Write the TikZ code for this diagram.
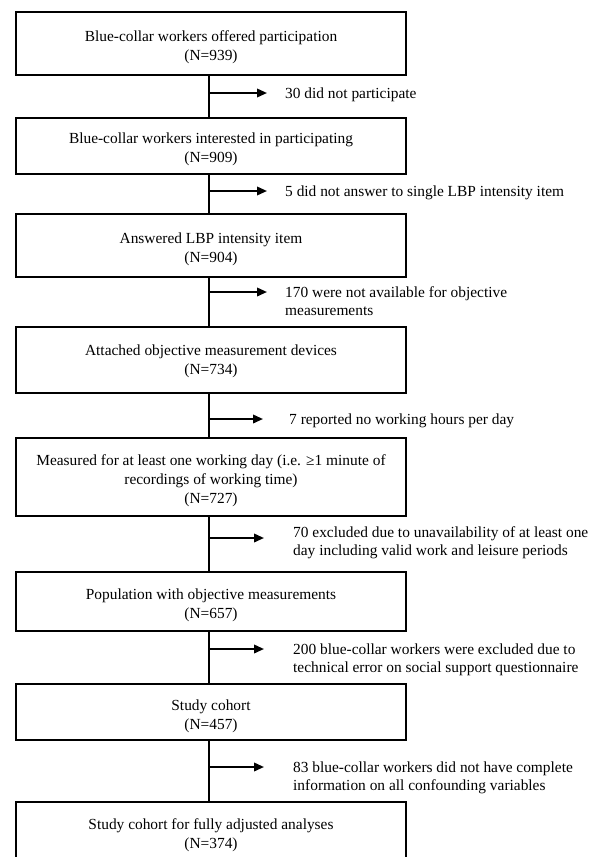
\documentclass[tikz,border=0pt]{standalone}
\usepackage{fontspec}
\setmainfont{Liberation Serif}
\usetikzlibrary{arrows.meta}
\tikzset{
  flowbox/.style={draw=black, line width=2.6pt, minimum width=390pt, inner sep=0pt},
  boxtext/.style={align=center, inner sep=0pt, font=\fontsize{15.4}{19}\selectfont},
  sidelabel/.style={anchor=base west, align=left, inner sep=0pt,
    font=\fontsize{15.4}{18}\selectfont},
  spine/.style={line width=2.4pt},
  exitarrow/.style={line width=2pt, -{Triangle[length=10pt,width=8.5pt]}},
}
\begin{document}
\begin{tikzpicture}[x=1pt,y=-1pt]
\useasboundingbox (0,0) rectangle (592,857);
\clip (0,0) rectangle (592,857);
% boxes (centre y, height)
\node[flowbox, minimum height=63pt] (b1) at (211,43.5) {};
\node[flowbox, minimum height=56pt] (b2) at (211,146) {};
\node[flowbox, minimum height=63pt] (b3) at (211,245.5) {};
\node[flowbox, minimum height=66pt] (b4) at (211,360) {};
\node[flowbox, minimum height=78pt] (b5) at (211,477) {};
\node[flowbox, minimum height=59pt] (b6) at (211,601.5) {};
\node[flowbox, minimum height=56pt] (b7) at (211,712) {};
\node[flowbox, minimum height=62pt] (b8) at (211,833) {};
% box texts
\node[boxtext] (t1) at ([yshift=-4pt]b1.center) {Blue-collar workers offered participation\\(N=939)};
\node[boxtext] (t2) at ([yshift=-3pt]b2.center) {Blue-collar workers interested in participating\\(N=909)};
\node[boxtext] (t3) at ([yshift=-4pt]b3.center) {Answered LBP intensity item\\(N=904)};
\node[boxtext] (t4) at ([yshift=-1pt]b4.center) {Attached objective measurement devices\\(N=734)};
\node[boxtext] (t5) at ([yshift=-4pt]b5.center) {Measured for at least one working day (i.e. ≥1 minute of\\recordings of working time)\\(N=727)};
\node[boxtext] (t6) at ([yshift=-4pt]b6.center) {Population with objective measurements\\(N=657)};
\node[boxtext] (t7) at ([yshift=-4pt]b7.center) {Study cohort\\(N=457)};
\node[boxtext] (t8) at ([yshift=-2pt]b8.center) {Study cohort for fully adjusted analyses\\(N=374)};
% spine
\coordinate (sp) at (209,0);
\draw[spine] (b1.south -| sp) -- (b2.north -| sp);
\draw[spine] (b2.south -| sp) -- (b3.north -| sp);
\draw[spine] (b3.south -| sp) -- (b4.north -| sp);
\draw[spine] (b4.south -| sp) -- (b5.north -| sp);
\draw[spine] (b5.south -| sp) -- (b6.north -| sp);
\draw[spine] (b6.south -| sp) -- (b7.north -| sp);
\draw[spine] (b7.south -| sp) -- (b8.north -| sp);
% exit arrows
\coordinate (s1) at (209,93);  \coordinate (e1) at (267,93);
\coordinate (s2) at (209,191); \coordinate (e2) at (267,191);
\coordinate (s3) at (209,292); \coordinate (e3) at (267,292);
\coordinate (s4) at (209,419); \coordinate (e4) at (263,419);
\coordinate (s5) at (209,538); \coordinate (e5) at (264,538);
\coordinate (s6) at (209,649); \coordinate (e6) at (264,649);
\coordinate (s7) at (209,767); \coordinate (e7) at (264,767);
\foreach \i in {1,...,7} { \draw[exitarrow] (s\i) -- (e\i); }
% labels (base = baseline of last line)
\node[sidelabel] (l1) at (285,98) {30 did not participate};
\node[sidelabel] (l2) at (285,196) {5 did not answer to single LBP intensity item};
\node[sidelabel] (l3) at (285,315) {170 were not available for objective\\measurements};
\node[sidelabel] (l4) at (289,424) {7 reported no working hours per day};
\node[sidelabel] (l5) at (293,555) {70 excluded due to unavailability of at least one\\day including valid work and leisure periods};
\node[sidelabel] (l6) at (293,672) {200 blue-collar workers were excluded due to\\technical error on social support questionnaire};
\node[sidelabel] (l7) at (293,790) {83 blue-collar workers did not have complete\\information on all confounding variables};
\end{tikzpicture}
\end{document}
